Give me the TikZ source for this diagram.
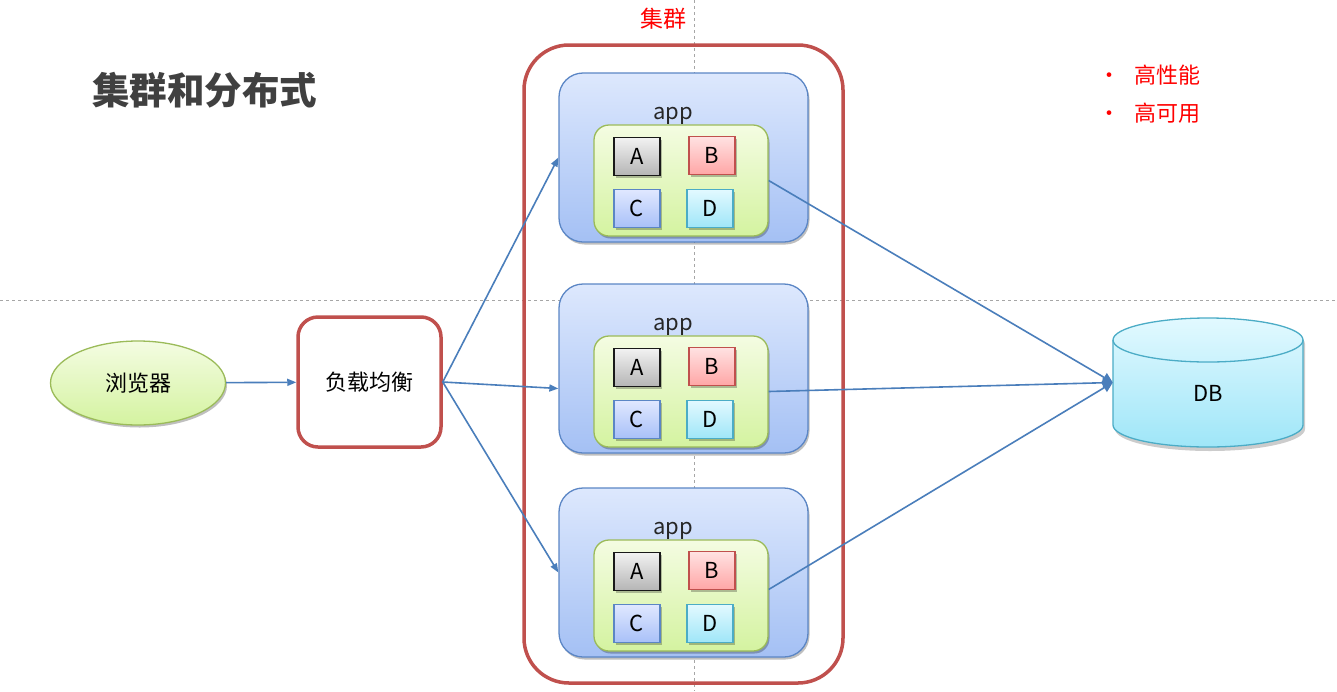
\documentclass[tikz,border=0pt]{standalone}
\usepackage{fontspec}
\setmainfont{Noto Sans CJK SC}
\usetikzlibrary{arrows.meta,shapes.geometric,shadows,calc}
\definecolor{redb}{HTML}{C0504D}
\definecolor{blueb}{HTML}{5B86C5}
\definecolor{greenb}{HTML}{9BBB59}
\definecolor{cyanb}{HTML}{4BACC6}
\definecolor{arrowc}{HTML}{4A7EBB}
\definecolor{titlec}{HTML}{404040}
\definecolor{guide}{HTML}{A6A6A6}
\definecolor{HTML-DDE8FD}{HTML}{DDE8FD}
\definecolor{HTML-A4C0F4}{HTML}{A4C0F4}
\definecolor{HTML-F4FCE2}{HTML}{F4FCE2}
\definecolor{HTML-D4F3A0}{HTML}{D4F3A0}
\definecolor{HTML-F2F2F2}{HTML}{F2F2F2}
\definecolor{HTML-B5B5B5}{HTML}{B5B5B5}
\definecolor{HTML-FFE2E2}{HTML}{FFE2E2}
\definecolor{HTML-FFA6A6}{HTML}{FFA6A6}
\definecolor{HTML-E0E8FF}{HTML}{E0E8FF}
\definecolor{HTML-A8C0F8}{HTML}{A8C0F8}
\definecolor{HTML-E2F9FF}{HTML}{E2F9FF}
\definecolor{HTML-9FE6F8}{HTML}{9FE6F8}
\tikzset{
  shad/.style={drop shadow={shadow xshift=1.5pt,shadow yshift=-2.5pt,opacity=0.25,fill=black}},
  txt/.style={font=\fontsize{22}{26}\selectfont},
  appbox/.style={draw=blueb,line width=1.3pt,rounded corners=24pt,minimum width=249pt,minimum height=169pt,
    top color=HTML-DDE8FD,bottom color=HTML-A4C0F4,shad},
  greenbox/.style={draw=greenb,line width=1.3pt,rounded corners=15pt,minimum width=174pt,minimum height=111pt,
    top color=HTML-F4FCE2,bottom color=HTML-D4F3A0,shad},
  mod/.style={line width=1.5pt,minimum width=46pt,minimum height=38pt,inner sep=0pt,txt,shad},
  moda/.style={mod,draw=black!90,top color=HTML-F2F2F2,bottom color=HTML-B5B5B5},
  modb/.style={mod,draw=redb,top color=HTML-FFE2E2,bottom color=HTML-FFA6A6},
  modc/.style={mod,draw=blueb,top color=HTML-E0E8FF,bottom color=HTML-A8C0F8},
  modd/.style={mod,draw=cyanb,top color=HTML-E2F9FF,bottom color=HTML-9FE6F8},
  conn/.style={draw=arrowc,line width=1.6pt,-{Triangle[length=9pt,width=7pt]}},
  guideline/.style={draw=guide,line width=0.8pt,dash pattern=on 3pt off 3pt},
  redtxt/.style={text=red,font=\fontsize{22}{26}\selectfont},
}
\begin{document}
\begin{tikzpicture}[x=1pt,y=-1pt]
\useasboundingbox[fill=white] (0,0) rectangle (1337,691);
% guides
\draw[guideline] (694,0) -- (694,691);
\draw[guideline] (0,300) -- (1337,300);
% title
\node[text=titlec,font=\fontsize{37.5}{42}\selectfont\bfseries] (title) at (204.5,90) {集群和分布式};
% cluster
\node[draw=redb,line width=3.5pt,rounded corners=45pt,minimum width=319pt,minimum height=638pt] (cluster) at (683.5,364) {};
\node[redtxt,font=\fontsize{23}{26}\selectfont] (clabel) at (663.5,19) {集群};
% bullets
\node[redtxt,anchor=west] (b1) at (1095,75) {\textbullet\hspace{14pt}高性能};
\node[redtxt,anchor=west] (b2) at (1095,113) {\textbullet\hspace{14pt}高可用};
% apps
\foreach \i/\t in {1/73,2/284,3/488}{
  \node[appbox] (app\i) at (683.5,\t+84.5) {};
  \node[txt,text=black!85] (lab\i) at (673,\t+43) {app};
  \node[greenbox] (g\i) at (681,\t+107.5) {};
  \node[moda] (a\i) at (637,\t+83.5) {A};
  \node[modb] (b\i) at (712,\t+82.5) {B};
  \node[modc] (c\i) at (637,\t+135.5) {C};
  \node[modd] (d\i) at (710,\t+135.5) {D};
}
% browser
\node[ellipse,draw=greenb,line width=1.3pt,minimum width=175pt,minimum height=84pt,
  top color=HTML-F4FCE2,bottom color=HTML-D4F3A0,shad,txt] (br) at (138,383) {浏览器};
% load balancer
\node[draw=redb,line width=3.5pt,rounded corners=20pt,minimum width=143pt,minimum height=130pt,fill=white,txt] (lb) at (369.5,382) {负载均衡};
% DB
\node[minimum width=190pt,minimum height=129pt,inner sep=0pt] (db) at (1208,382.5) {};
\fill[black,opacity=0.2] (1115,344) -- (1115,429) arc (180:0:95 and 22) -- (1305,344) arc (0:-180:95 and 22) -- cycle;
\draw[cyanb,line width=1.3pt,top color=HTML-E2F9FF,bottom color=HTML-9FE6F8]
  (1113,340) -- (1113,425) arc (180:0:95 and 22) -- (1303,340) arc (0:-180:95 and 22) -- cycle;
\draw[cyanb,line width=1.3pt] (1113,340) arc (180:0:95 and 22);
\node[txt] (dbl) at (1208,393) {DB};
% connectors
\draw[conn] (br) -- (lb);
\draw[conn] (lb.east) -- (app1.west);
\draw[conn] (lb.east) -- ([yshift=-20pt]app2.west);
\draw[conn] (lb.east) -- (app3.west);
\draw[conn,-{Triangle[length=10pt,width=10pt]}] (g1.east) -- (db.west);
\draw[conn,-{Triangle[length=10pt,width=10pt]}] (g2.east) -- (db.west);
\draw[conn,-{Triangle[length=10pt,width=10pt]}] ([yshift=6pt]g3.east) -- (db.west);
\end{tikzpicture}
\end{document}
